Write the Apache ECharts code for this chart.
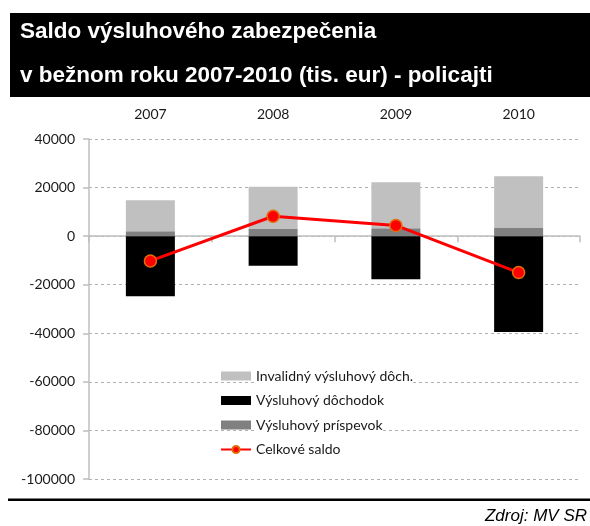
<!DOCTYPE html>
<html>
<head>
<meta charset="utf-8">
<script src="https://cdn.jsdelivr.net/npm/echarts@6/dist/echarts.min.js"></script>
<style>
  html, body { margin: 0; padding: 0; background: #fff; }
  #chart { width: 590px; height: 526px; }
</style>
</head>
<body>
<div id="chart"></div>
<script>
// data (tis. eur)
const years = ['2007', '2008', '2009', '2010'];
const invalidny = [12800, 17400, 19000, 21100];
const dochodok = [-24700, -12200, -17700, -39500];
const prispevok = [2000, 2900, 3200, 3600];
const saldo = [-10200, 8200, 4400, -15000];

const chart = echarts.init(document.getElementById('chart'));

const labelFont = 'Lato, "Open Sans", sans-serif';
const titleFont = 'bold 22.5px "Liberation Sans", Arial, sans-serif';

const option = {
  animation: false,
  grid: { left: 89, right: 10, top: 139, bottom: 47 },
  legend: {
    orient: 'vertical',
    left: 220,
    top: 368,
    padding: 0,
    itemWidth: 30,
    itemHeight: 9,
    itemGap: 8.5,
    textStyle: {
      fontFamily: labelFont, fontSize: 14, color: '#1a1a1a',
      lineHeight: 16, backgroundColor: '#fff'
    },
    data: [
      { name: 'Invalidný výsluhový dôch.', icon: 'rect' },
      { name: 'Výsluhový dôchodok', icon: 'rect' },
      { name: 'Výsluhový príspevok', icon: 'rect' },
      { name: 'Celkové saldo' }
    ]
  },
  xAxis: [
    {
      type: 'category',
      data: years,
      axisLine: { onZero: true, lineStyle: { color: '#bfbfbf', width: 1.5 } },
      axisTick: { show: true, length: 6, lineStyle: { color: '#bfbfbf', width: 1.5 } },
      axisLabel: { show: false },
      splitLine: { show: false }
    },
    {
      type: 'category',
      data: years,
      position: 'top',
      axisLine: { show: false },
      axisTick: { show: false },
      axisLabel: { margin: 18, fontFamily: labelFont, fontSize: 14, color: '#1a1a1a' },
      splitLine: { show: false }
    }
  ],
  yAxis: {
    type: 'value',
    min: -100000,
    max: 40000,
    interval: 20000,
    axisLine: { show: true, lineStyle: { color: '#bfbfbf', width: 1.5 } },
    axisTick: { show: true, length: 6, lineStyle: { color: '#bfbfbf', width: 1.5 } },
    axisLabel: {
      margin: 14, fontFamily: labelFont, fontSize: 14, color: '#1a1a1a',
      formatter: v => String(v)
    },
    splitLine: { lineStyle: { color: '#b0b0b0', type: [3, 3], width: 1 } }
  },
  series: [
    {
      name: 'Výsluhový príspevok', type: 'bar', stack: 'a', barWidth: 49,
      itemStyle: { color: '#808080' }, data: prispevok
    },
    {
      name: 'Invalidný výsluhový dôch.', type: 'bar', stack: 'a', barWidth: 49,
      itemStyle: { color: '#c0c0c0' }, data: invalidny
    },
    {
      name: 'Výsluhový dôchodok', type: 'bar', stack: 'a', barWidth: 49,
      itemStyle: { color: '#000000' }, data: dochodok
    },
    {
      name: 'Celkové saldo', type: 'line', z: 5,
      symbol: 'circle', symbolSize: 12,
      lineStyle: { color: '#ff0000', width: 3 },
      itemStyle: { color: '#ff0000', borderColor: '#e46c0a', borderWidth: 1.5 },
      data: saldo
    }
  ],
  graphic: [
    { type: 'rect', shape: { x: 10, y: 13, width: 580, height: 84 }, style: { fill: '#000' } },
    {
      type: 'text', x: 20, y: 32,
      style: {
        text: 'Saldo výsluhového zabezpečenia', fill: '#fff',
        font: titleFont, textVerticalAlign: 'middle'
      }
    },
    {
      type: 'text', x: 20, y: 76,
      style: {
        text: 'v bežnom roku 2007-2010 (tis. eur) - policajti', fill: '#fff',
        font: titleFont, textVerticalAlign: 'middle'
      }
    },
    { type: 'rect', shape: { x: 8, y: 498.5, width: 582, height: 2.5 }, style: { fill: '#000' } },
    {
      type: 'text', x: 587, y: 516,
      style: {
        text: 'Zdroj: MV SR', fill: '#000', textAlign: 'right',
        font: 'italic 17px "Liberation Sans", Arial, sans-serif', textVerticalAlign: 'middle'
      }
    }
  ]
};

chart.setOption(option);
</script>
</body>
</html>
